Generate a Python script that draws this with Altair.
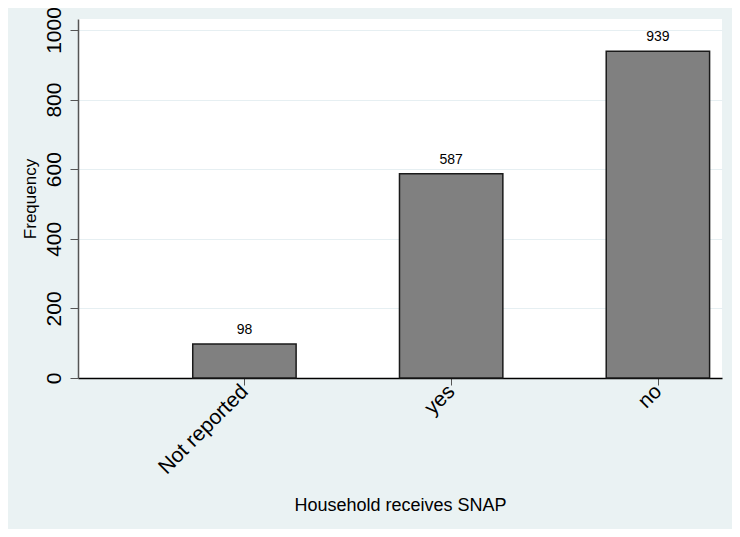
import altair as alt
import pandas as pd

categories = ["Not reported", "yes", "no"]
counts = [98, 587, 939]
y_ticks = [0, 200, 400, 600, 800, 1000]

df = pd.DataFrame({
    "category": categories,
    "count": counts,
    "pos": list(range(1, len(categories) + 1)),
})
df["x0"] = df["pos"] - 0.25
df["x1"] = df["pos"] + 0.25

FONT = "Liberation Sans"
BG = "#EAF2F3"

label_expr = " : ".join(
    [f"datum.value == {i + 1} ? '{c}'" for i, c in enumerate(categories)]
) + " : ''"

xscale = alt.Scale(domain=[0.195, 3.31], nice=False, zero=False)
yscale = alt.Scale(domain=[0, 1031.6], nice=False)

xaxis = alt.Axis(
    values=[1, 2, 3], labelExpr=label_expr, title="Household receives SNAP",
    labelAngle=315, labelAlign="right", labelBaseline="middle",
    labelFontSize=21, labelFont=FONT, labelColor="#000000", labelPadding=3,
    tickSize=7, tickColor="#555555", domainColor="#000000", domainWidth=1.5,
    grid=False, titleFont=FONT, titleFontSize=18, titleFontWeight="normal",
    titleColor="#000000", titleX=322, titleY=127, titleBaseline="middle",
    titleAlign="center",
)
yaxis = alt.Axis(
    values=y_ticks, format="d", title="Frequency", labelAngle=270,
    labelAlign="center", labelBaseline="alphabetic", labelFontSize=21,
    labelFont=FONT, labelColor="#000000", labelPadding=10, tickSize=8,
    tickColor="#555555", domainColor="#555555", domainWidth=1.5, grid=True,
    gridColor="#E6EFF2", gridWidth=1, titleFont=FONT, titleFontSize=17,
    titleFontWeight="normal", titleColor="#000000", titleAngle=270,
    titleX=-48, titleY=179.5, titleBaseline="middle", titleAlign="center",
)

base = alt.Chart(df)

bars = base.mark_bar(fill="#808080", stroke="#1a1a1a", strokeWidth=1.5).encode(
    x=alt.X("x0:Q", scale=xscale, axis=xaxis),
    x2="x1:Q",
    y=alt.Y("count:Q", scale=yscale, axis=yaxis),
    y2=alt.datum(0),
)

labels = base.mark_text(
    font=FONT, fontSize=14, color="#000000", baseline="alphabetic", dy=-10
).encode(
    x=alt.X("pos:Q", scale=xscale),
    y=alt.Y("count:Q", scale=yscale),
    text="count:Q",
)

chart = (
    alt.layer(bars, labels)
    .properties(
        width=644, height=359, background=BG,
        padding={"left": 70, "top": 11, "right": 10, "bottom": 151},
        autosize=alt.AutoSizeParams(type="none"),
    )
    .configure_view(fill="#FFFFFF", stroke=None)
)

chart.save("out.html", embed_options={"renderer": "svg", "actions": False})
